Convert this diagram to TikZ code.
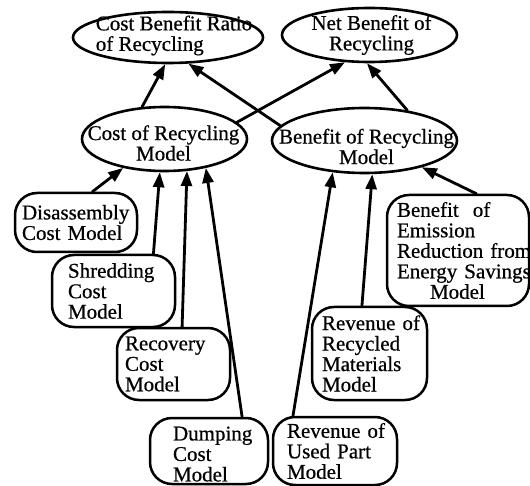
\documentclass[tikz,border=0pt]{standalone}
\usepackage{fontspec}
\setmainfont{Liberation Serif}[FakeBold=0.6]
\usepackage{tikz}
\usetikzlibrary{arrows.meta,shapes.geometric}
\hyphenpenalty=10000
\exhyphenpenalty=10000

\begin{document}
\begin{tikzpicture}[line cap=round,line join=round,>={Triangle[length=15pt,width=11pt]},x=1pt,y=-1pt,
    every node/.style={font=\fontsize{21}{20.5}\selectfont},
    goal/.style={draw,ellipse,line width=2.6pt,inner sep=0pt},
    model/.style={draw,rounded corners=22pt,line width=2.5pt,align=left,inner ysep=0pt},
    link/.style={->,line width=2.8pt}]
    \useasboundingbox (0,0) rectangle (530,486);
    % top level
    \node[goal,minimum width=190pt,minimum height=51pt,label={[align=left,xshift=6pt,yshift=2pt]center:Cost Benefit Ratio\\of Recycling}] (ratio) at (168,37.5) {};
    \node[goal,minimum width=175pt,minimum height=54pt,label={[align=center,xshift=2pt]center:Net Benefit of\\Recycling}] (net) at (369.5,35) {};
    \node[goal,minimum width=165pt,minimum height=64pt,label={[align=center,xshift=-1pt,yshift=-4pt]center:Cost of Recycling\\Model}] (cost) at (164.5,139) {};
    \node[goal,minimum width=185pt,minimum height=65pt,label={[align=center,xshift=2pt,yshift=-6pt]center:Benefit of Recycling\\Model}] (benefit) at (364.5,140.5) {};
    % cost models
    \node[model,minimum width=122pt,minimum height=59pt,inner xsep=7pt,text width=108pt] (dis) at (76,222.5) {Disassembly\\Cost~Model};
    \node[model,minimum width=123pt,minimum height=72pt,inner xsep=16pt,text width=91pt] (shred) at (113.5,291) {Shredding\\Cost\\Model};
    \node[model,minimum width=113pt,minimum height=72pt,inner xsep=8pt,text width=97pt] (recov) at (173.5,364) {Recovery\\Cost\\Model};
    \node[model,minimum width=118pt,minimum height=66pt,inner xsep=23pt,text width=72pt,text depth=35pt] (dump) at (209,451) {Dumping\\Cost\\Model};
    % benefit models
    \node[model,minimum width=124pt,minimum height=68pt,inner xsep=14pt,text width=96pt] (used) at (335,451) {Revenue~of\\Used~Part\\Model};
    \node[model,minimum width=115pt,minimum height=93pt,inner xsep=10pt,text width=95pt] (rmat) at (369.5,353.5) {Revenue~of\\Recycled\\Materials\\Model};
    \node[model,minimum width=142pt,minimum height=111pt,inner xsep=10pt,text width=122pt] (emis) at (458,250.5) {Benefit~~of\\Emission\\Reduction~from\\Energy~Savings\\\hspace*{33pt}Model};
    % links
    \draw[link] (dis.62) -- (cost.-145);
    \draw[link] (shred.43) -- (cost.-98);
    \draw[link] (recov.77) -- (cost.-55);
    \draw[link] (dump.46) -- (cost.-35);
    \draw[link] (used.140) -- (benefit.-135);
    \draw[link] (rmat.99) -- (benefit.-77);
    \draw[link] (emis.72) -- (benefit.-25);
    \draw[link] (cost.125) -- (ratio.-96);
    \draw[link] (cost.13) -- (net.-132);
    \draw[link] (benefit.170) -- (ratio.-52);
    \draw[link] (benefit.35) -- (net.-95);
\end{tikzpicture}
\end{document}
